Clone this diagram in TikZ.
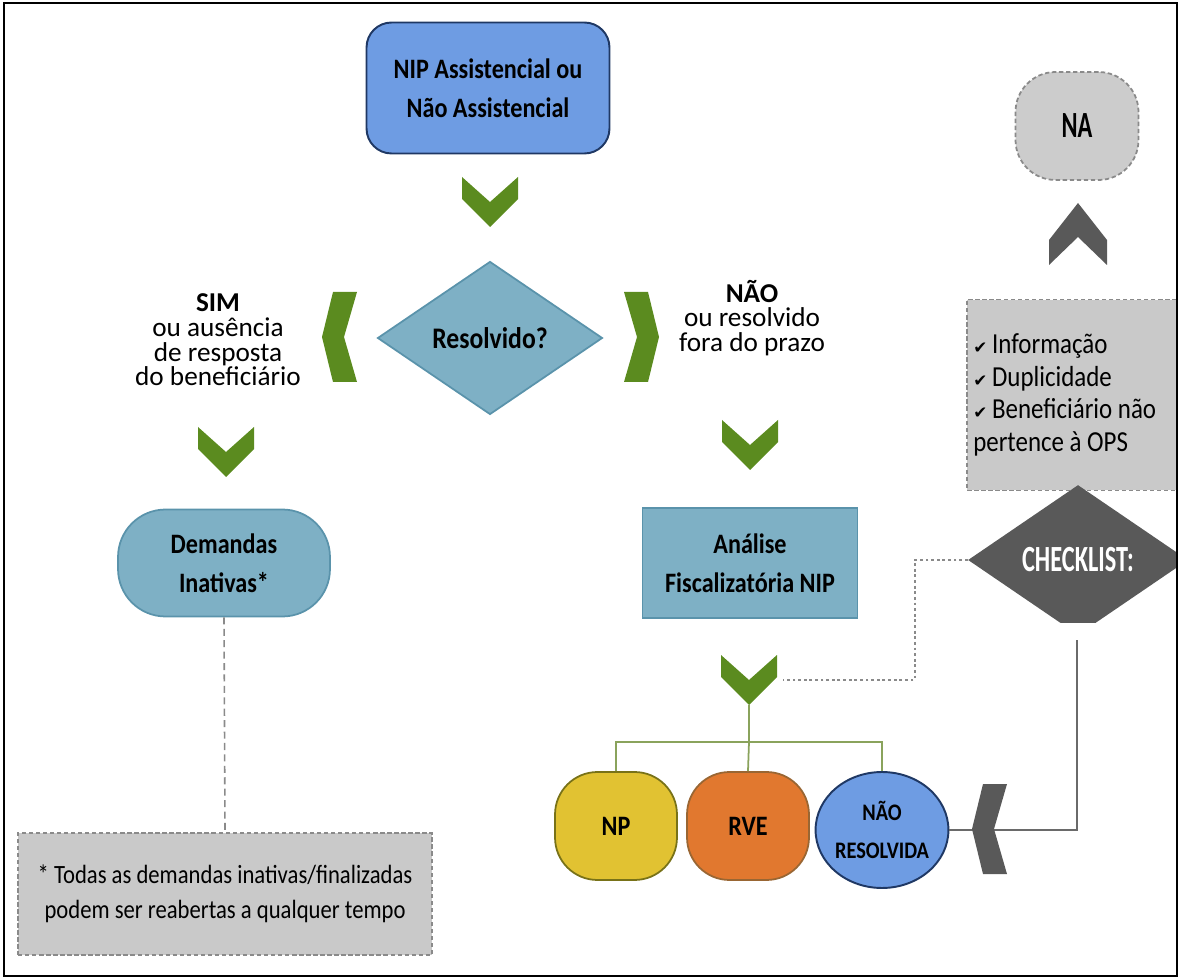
\documentclass[tikz,border=0pt]{standalone}
\usepackage{fontspec}
\setmainfont{Carlito}
\newfontfamily\narrowfont{Carlito}[FakeStretch=0.86]
\newfontfamily\condfont{Carlito}[FakeStretch=0.66]
\newfontfamily\symbfont{DejaVu Sans}
\usetikzlibrary{shapes.geometric}

\definecolor{nipblue}{HTML}{6E9CE3}
\definecolor{navyline}{HTML}{1F3864}
\definecolor{tealfill}{HTML}{7EB0C5}
\definecolor{tealline}{HTML}{5A93AB}
\definecolor{chevgreen}{HTML}{5B8B1F}
\definecolor{treegreen}{HTML}{8AA35C}
\definecolor{npyellow}{HTML}{E1C232}
\definecolor{rveorange}{HTML}{E1782F}
\definecolor{notegray}{HTML}{C9C9C9}
\definecolor{dashgray}{HTML}{8A8A8A}
\definecolor{chkgray}{HTML}{595959}

\newcommand{\tick}{{\symbfont\fontsize{9.5}{9.5}\selectfont ✔}\,}

\begin{document}
\begin{tikzpicture}[x=0.02cm, y=-0.02cm,
    boxfont/.style={font={\narrowfont\bfseries\fontsize{16}{22}\selectfont}, align=center, inner sep=0},
    sidefont/.style={font={\fontsize{15.5}{14}\selectfont}, align=center, inner sep=0},
    bluebox/.style={boxfont, draw=navyline, fill=nipblue, line width=1.1pt},
    tealbox/.style={boxfont, draw=tealline, fill=tealfill, line width=1pt},
    roundbox/.style={boxfont, minimum width=2.44cm, minimum height=2.16cm, rounded corners=0.85cm, line width=1pt},
    graybox/.style={draw=dashgray, fill=notegray, line width=1pt, dash pattern=on 2.5pt off 1.5pt},
    treeline/.style={draw=treegreen, line width=1pt},
    dashline/.style={draw=dashgray, line width=0.9pt, dash pattern=on 4pt off 2.5pt},
    dotline/.style={draw=dashgray, line width=1pt, dash pattern=on 1.6pt off 1.6pt},
    grayline/.style={draw=chkgray!90, line width=1.3pt},
    pics/chevdown/.style={code={\fill[#1] (-28,0) -- (0,25) -- (28,0) -- (28,22) -- (0,50) -- (-28,22) -- cycle;}},
    pics/chevup/.style={code={\fill[#1] (0,0) -- (29,37) -- (29,62) -- (0,34) -- (-29,62) -- (-29,37) -- cycle;}},
    pics/chevleft/.style={code={\fill[#1] (0,0) -- (11,-45) -- (35,-45) -- (22,0) -- (35,45) -- (11,45) -- cycle;}},
    pics/chevright/.style={code={\fill[#1] (0,0) -- (-11,-45) -- (-35,-45) -- (-22,0) -- (-35,45) -- (-11,45) -- cycle;}}]
\useasboundingbox (0,0) rectangle (1180,979);

% Top of the flow
\node[bluebox, rounded corners=0.5cm, minimum width=4.86cm, minimum height=2.62cm] (nip) at (488,88) {NIP Assistencial ou\\Não Assistencial};
\pic at (490,177) {chevdown=chevgreen};
\node[tealbox, diamond, minimum width=4.5cm, minimum height=3.06cm, font={\narrowfont\bfseries\fontsize{17}{20}\selectfont}] (res) at (490,338) {Resolvido?};

% SIM branch
\pic at (322,337) {chevleft=chevgreen};
\node[sidefont] (sim) at (218,340) {\textbf{SIM}\\ou ausência\\de resposta\\do beneficiário};
\pic at (226,427) {chevdown=chevgreen};
\node[tealbox, rounded corners=0.95cm, minimum width=4.24cm, minimum height=2.14cm] (dem) at (224,563) {Demandas\\Inativas*};
\node[graybox, minimum width=8.28cm, minimum height=2.44cm, align=center, font={\narrowfont\fontsize{15}{20}\selectfont}] (note) at (225,894) {* Todas as demandas inativas/finalizadas\\podem ser reabertas a qualquer tempo};
\draw[dashline] (dem.south) -- (note.north);

% NAO branch
\pic at (659,337) {chevright=chevgreen};
\node[sidefont] (nao) at (752,318) {\textbf{NÃO}\\ou resolvido\\fora do prazo};
\pic at (750,420) {chevdown=chevgreen};
\node[tealbox, minimum width=4.3cm, minimum height=2.2cm] (ana) at (750,563) {Análise\\Fiscalizatória NIP};
\pic at (749,655) {chevdown=chevgreen};
\coordinate (tip) at (749,705);
\coordinate (split) at (749,742);

% Results
\node[roundbox, draw=olive!80!black, fill=npyellow] (np) at (616,826) {NP};
\node[roundbox, draw=brown!80!black, fill=rveorange] (rve) at (748,826) {RVE};
\node[bluebox, ellipse, minimum width=2.62cm, minimum height=2.32cm, font={\narrowfont\bfseries\fontsize{13.5}{22}\selectfont}] (nr) at (882,830) {NÃO\\RESOLVIDA};
\draw[treeline] (tip) -- (split);
\draw[treeline] (split) -| (np.north);
\draw[treeline] (split) -- (rve.north);
\draw[treeline] (split) -| (nr.north);

% Checklist
\node[graybox, fill=gray!40, rounded corners=0.8cm, minimum width=2.46cm, minimum height=2.16cm, inner sep=0,
      font={\condfont\bfseries\fontsize{21}{22}\selectfont}] (na) at (1077,126) {NA};
\pic at (1078,203) {chevup=chkgray};
\node[graybox, minimum width=4.18cm, minimum height=3.82cm, text width=3.95cm, align=flush left, inner xsep=0.12cm,
      font={\narrowfont\fontsize{16.5}{18.5}\selectfont}] (list) at (1072,395)
      {\tick Informação\\\tick Duplicidade\\\tick Beneficiário não\\pertence à OPS};
\begin{scope}
\clip (900,470) rectangle (1177,622);
\node[diamond, fill=chkgray, minimum width=4.4cm, minimum height=3cm, inner sep=0, text=white,
      font={\condfont\bfseries\fontsize{21}{22}\selectfont}] (chk) at (1078,560) {CHECKLIST:};
\end{scope}
\coordinate (dotend) at (783,680);
\coordinate (chkfoot) at (1077,640);
\draw[dotline] (chk.west) -- ++(-53,0) |- (dotend);
\draw[grayline] (nr.east) -| (chkfoot);
\pic at (972,829) {chevleft=chkgray};

% Frame
\draw[line width=1.2pt] (4,3) rectangle (1177,976);
\end{tikzpicture}
\end{document}
